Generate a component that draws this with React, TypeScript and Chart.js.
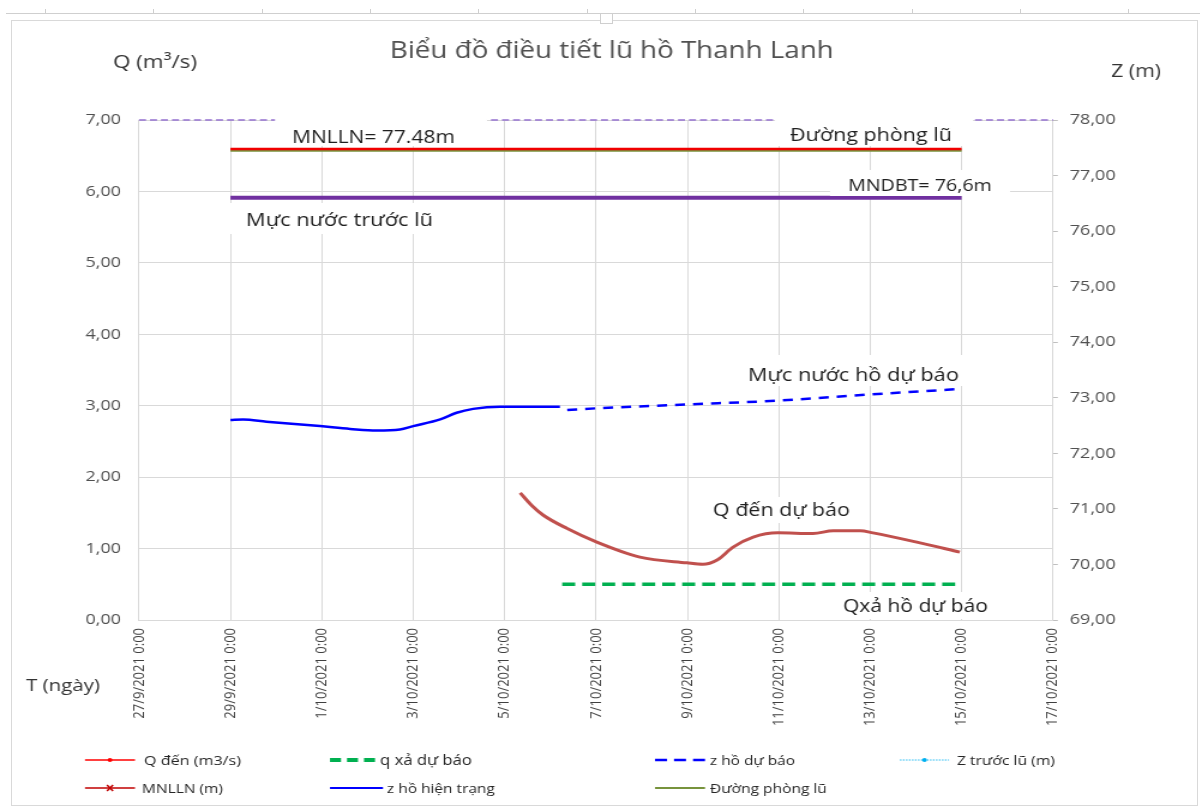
import React, { useEffect, useRef } from "react";
import { Chart, registerables } from "chart.js";
Chart.register(...registerables);

// ---------------- DATA ----------------
const TITLE = "Biểu đồ điều tiết lũ hồ Thanh Lanh";
const Y_LEFT_TITLE = "Q (m³/s)";
const Y_RIGHT_TITLE = "Z (m)";
const X_TITLE = "T (ngày)";

// x values are days since 27/9/2021 0:00
const xTickLabels = [
  "27/9/2021 0:00",
  "29/9/2021 0:00",
  "1/10/2021 0:00",
  "3/10/2021 0:00",
  "5/10/2021 0:00",
  "7/10/2021 0:00",
  "9/10/2021 0:00",
  "11/10/2021 0:00",
  "13/10/2021 0:00",
  "15/10/2021 0:00",
  "17/10/2021 0:00",
];

// z hồ hiện trạng (m)
const zHienTrangDays = [2.0, 2.28, 2.79, 3.96, 4.62, 5.2, 5.71, 6.0, 6.59, 6.95, 7.31, 7.9, 9.21];
const zHienTrangValues = [72.6, 72.61, 72.57, 72.49, 72.44, 72.41, 72.43, 72.49, 72.61, 72.73, 72.8, 72.84, 72.84];

// z hồ dự báo (m)
const zDuBaoDays = [9.37, 10, 12, 14, 16, 18];
const zDuBaoValues = [72.78, 72.81, 72.88, 72.95, 73.06, 73.16];

// Q đến dự báo (m3/s)
const qDenDays = [8.34, 8.6, 8.84, 9.37, 9.98, 10.96, 11.99, 12.34, 12.65, 13.0, 13.44, 13.98, 14.75, 15.19, 15.78, 16.06, 17.02, 17.96];
const qDenValues = [1.78, 1.6, 1.47, 1.28, 1.1, 0.88, 0.8, 0.78, 0.84, 1.02, 1.16, 1.22, 1.21, 1.25, 1.25, 1.22, 1.09, 0.95];

// q xả dự báo (m3/s)
const qXaDays = [9.26, 18];
const qXaValues = [0.5, 0.5];

// MNLLN (m)
const mnllnDays = [2, 18];
const mnllnValues = [77.48, 77.48];

// Đường phòng lũ (m)
const phongLuDays = [2, 18];
const phongLuValues = [77.45, 77.45];

// MNDBT / mực nước trước lũ (m)
const mndbtDays = [2, 18];
const mndbtValues = [76.6, 76.6];

// top reference line (m)
const topLineDays = [0, 20];
const topLineValues = [78, 78];

// ---------------- LAYOUT ----------------
const CW = 1002; // canvas internal width, stretched to 1202 on screen
const CH = 807;
const S = 1202 / CW;
const X = (sx: number) => sx / S;
const FONT = "'Open Sans', 'DejaVu Sans', sans-serif";

const mk = (days: number[], vals: number[]) => days.map((d, i) => ({ x: d, y: vals[i] }));
const fmt = (v: number) => Number(v).toFixed(2).replace(".", ",");

function fitSize(ctx: CanvasRenderingContext2D, text: string, screenW: number) {
  ctx.font = `100px ${FONT}`;
  const w = ctx.measureText(text).width;
  return (100 * X(screenW)) / w;
}
function drawFit(ctx: CanvasRenderingContext2D, text: string, sx1: number, sx2: number, base: number, color: string) {
  const size = fitSize(ctx, text, sx2 - sx1);
  ctx.font = `${size}px ${FONT}`;
  ctx.fillStyle = color;
  ctx.textAlign = "left";
  ctx.textBaseline = "alphabetic";
  ctx.fillText(text, X(sx1), base);
}

const annotations = [
  { text: "MNLLN= 77.48m", x1: 292, x2: 455, base: 143, box: [275, 115, 487, 146] },
  { text: "Đường phòng lũ", x1: 790, x2: 952, base: 141, box: [775, 115, 973, 146] },
  { text: "MNDBT= 76,6m", x1: 848, x2: 992, base: 191, box: [830, 170, 1010, 196] },
  { text: "Mực nước trước lũ", x1: 246, x2: 433, base: 226, box: [228, 203, 452, 234] },
  { text: "Mực nước hồ dự báo", x1: 748, x2: 959, base: 381, box: [730, 355, 965, 386] },
  { text: "Q đến dự báo", x1: 713, x2: 850, base: 516, box: [695, 497, 868, 523] },
  { text: "Qxả hồ dự báo", x1: 843, x2: 988, base: 612, box: [825, 592, 1006, 619] },
];

const legendItems = [
  { text: "Q đến (m3/s)", color: "#FF0000", width: 1.5, dash: [] as number[], marker: "dot", lx1: 85, lx2: 135, tx1: 144, tx2: 241, row: 0 },
  { text: "q xả dự báo", color: "#00B050", width: 4, dash: [11, 6], marker: "", lx1: 330, lx2: 376, tx1: 380, tx2: 472, row: 0 },
  { text: "z hồ dự báo", color: "#0000FF", width: 2.5, dash: [12, 7], marker: "", lx1: 655, lx2: 705, tx1: 710, tx2: 795, row: 0 },
  { text: "Z trước lũ (m)", color: "#00B0F0", width: 1, dash: [1.5, 1.5], marker: "dot", lx1: 900, lx2: 949, tx1: 957, tx2: 1055, row: 0 },
  { text: "MNLLN (m)", color: "#C00000", width: 1.5, dash: [], marker: "x", lx1: 85, lx2: 135, tx1: 142, tx2: 223, row: 1 },
  { text: "z hồ hiện trạng", color: "#0000FF", width: 2.2, dash: [], marker: "", lx1: 330, lx2: 383, tx1: 387, tx2: 495, row: 1 },
  { text: "Đường phòng lũ", color: "#77933C", width: 2.2, dash: [], marker: "", lx1: 655, lx2: 705, tx1: 710, tx2: 827, row: 1 },
];
const legendLineY = [760, 788];
const legendBase = [765, 793];

const overlayPlugin = {
  id: "overlay",
  afterDatasetsDraw(chart: any) {
    const ctx: CanvasRenderingContext2D = chart.ctx;
    ctx.save();
    for (const a of annotations) {
      const [bx1, by1, bx2, by2] = a.box;
      ctx.fillStyle = "#ffffff";
      ctx.fillRect(X(bx1), by1, X(bx2) - X(bx1), by2 - by1);
      drawFit(ctx, a.text, a.x1, a.x2, a.base, "#1f1f1f");
    }
    ctx.restore();
  },
  afterDraw(chart: any) {
    const ctx: CanvasRenderingContext2D = chart.ctx;
    ctx.save();
    drawFit(ctx, TITLE, 390, 834, 58, "#505050");
    drawFit(ctx, Y_LEFT_TITLE, 113, 197, 68, "#333333");
    drawFit(ctx, Y_RIGHT_TITLE, 1111, 1161, 77, "#333333");
    drawFit(ctx, X_TITLE, 26, 100, 691, "#333333");
    for (const it of legendItems) {
      const y = legendLineY[it.row];
      ctx.save();
      ctx.strokeStyle = it.color;
      ctx.lineWidth = it.width;
      ctx.setLineDash(it.dash.map((d) => X(d)));
      ctx.beginPath();
      ctx.moveTo(X(it.lx1), y);
      ctx.lineTo(X(it.lx2), y);
      ctx.stroke();
      ctx.setLineDash([]);
      const mx = X((it.lx1 + it.lx2) / 2);
      if (it.marker === "dot") {
        ctx.fillStyle = it.color;
        ctx.beginPath();
        ctx.arc(mx, y, 2, 0, Math.PI * 2);
        ctx.fill();
      } else if (it.marker === "x") {
        ctx.lineWidth = 1.5;
        ctx.beginPath();
        ctx.moveTo(mx - 2.5, y - 3);
        ctx.lineTo(mx + 2.5, y + 3);
        ctx.moveTo(mx + 2.5, y - 3);
        ctx.lineTo(mx - 2.5, y + 3);
        ctx.stroke();
      }
      ctx.restore();
      drawFit(ctx, it.text, it.tx1, it.tx2, legendBase[it.row], "#262626");
    }
    ctx.restore();
  },
};

export default function App() {
  const ref = useRef<HTMLCanvasElement>(null);
  useEffect(() => {
    if (!ref.current) return;
    Chart.defaults.font.family = FONT;
    const line = { pointRadius: 0, pointHoverRadius: 0, fill: false, tension: 0 };
    const chart = new Chart(ref.current, {
      type: "line",
      data: {
        datasets: [
          { ...line, label: "MNLLN (m)", data: mk(mnllnDays, mnllnValues), yAxisID: "yZ", borderColor: "#F00000", borderWidth: 2.5 },
          { ...line, label: "Đường phòng lũ", data: mk(phongLuDays, phongLuValues), yAxisID: "yZ", borderColor: "#77933C", borderWidth: 2.2 },
          { ...line, label: "MNDBT", data: mk(mndbtDays, mndbtValues), yAxisID: "yZ", borderColor: "#7030A0", borderWidth: 4 },
          { ...line, label: "top", data: mk(topLineDays, topLineValues), yAxisID: "yZ", borderColor: "#9470CF", borderWidth: 1.6, borderDash: [X(7), X(4)], clip: 6 },
          { ...line, label: "z hồ hiện trạng", data: mk(zHienTrangDays, zHienTrangValues), yAxisID: "yZ", borderColor: "#0000FF", borderWidth: 2.5, cubicInterpolationMode: "monotone" },
          { ...line, label: "z hồ dự báo", data: mk(zDuBaoDays, zDuBaoValues), yAxisID: "yZ", borderColor: "#0000FF", borderWidth: 2.5, borderDash: [X(10), X(8)], cubicInterpolationMode: "monotone" },
          { ...line, label: "Q đến (m3/s)", data: mk(qDenDays, qDenValues), yAxisID: "yQ", borderColor: "#C0504D", borderWidth: 3, cubicInterpolationMode: "monotone" },
          { ...line, label: "q xả dự báo", data: mk(qXaDays, qXaValues), yAxisID: "yQ", borderColor: "#00B050", borderWidth: 3.5, borderDash: [X(13), X(7)] },
        ] as any,
      },
      options: {
        responsive: false,
        animation: false,
        devicePixelRatio: 1,
        layout: { padding: { top: 120, left: 0, right: 0, bottom: 0 } },
        plugins: { legend: { display: false }, title: { display: false }, tooltip: { enabled: false } },
        scales: {
          x: {
            type: "linear",
            min: 0,
            max: 20,
            grid: { color: "#d9d9d9", drawTicks: false },
            border: { display: true, color: "#d9d9d9" },
            ticks: {
              stepSize: 2,
              autoSkip: false,
              maxRotation: 90,
              minRotation: 90,
              padding: 8,
              color: "#404040",
              font: { size: 13 },
              callback: (v: any) => xTickLabels[Math.round(Number(v) / 2)] ?? "",
            },
            afterFit: (s: any) => { s.height = CH - 620; },
          },
          yQ: {
            type: "linear",
            position: "left",
            min: 0,
            max: 7,
            grid: { color: "#d9d9d9", drawTicks: false },
            border: { display: true, color: "#d9d9d9" },
            ticks: { stepSize: 1, padding: 15, color: "#505050", font: { size: 15 }, callback: (v: any) => fmt(v) },
            afterFit: (s: any) => { s.width = X(139); },
          },
          yZ: {
            type: "linear",
            position: "right",
            min: 69,
            max: 78,
            grid: { drawOnChartArea: false, drawTicks: true, tickLength: 4, color: "#bfbfbf" },
            border: { display: true, color: "#d9d9d9" },
            ticks: { stepSize: 1, padding: 10, color: "#505050", font: { size: 15 }, callback: (v: any) => fmt(v) },
            afterFit: (s: any) => { s.width = CW - X(1053); },
          },
        },
      } as any,
      plugins: [overlayPlugin],
    });
    const fonts = (document as any).fonts;
    if (fonts && fonts.load) {
      fonts.load(`16px 'Open Sans'`).then(() => { try { chart.update(); } catch (e) {} });
    }
    return () => chart.destroy();
  }, []);

  const rulerTicks = [45, 153, 262, 370, 478, 587, 695, 803, 912, 1020, 1128];
  return (
    <div style={{ position: "fixed", left: 0, top: 0, width: 1202, height: 807, background: "#fff", overflow: "hidden" }}>
      <div style={{ position: "absolute", left: 0, top: 0, width: CW, height: CH, transform: `scaleX(${S})`, transformOrigin: "0 0" }}>
        <canvas ref={ref} width={CW} height={CH} style={{ width: CW, height: CH, display: "block" }} />
      </div>
      <div style={{ position: "absolute", left: 11, top: 20, width: 1187, height: 786, border: "1px solid #d9d9d9", boxSizing: "border-box", pointerEvents: "none" }} />
      <div style={{ position: "absolute", left: 6, top: 13, width: 1194, height: 0, borderTop: "1px solid #cfcfcf" }} />
      {rulerTicks.map((t) => (
        <div key={t} style={{ position: "absolute", left: t, top: 9, width: 0, height: 5, borderLeft: "1px solid #cfcfcf" }} />
      ))}
      <div style={{ position: "absolute", left: 600, top: 13, width: 13, height: 11, border: "1px solid #cfcfcf", background: "#fff", boxSizing: "border-box" }} />
    </div>
  );
}
